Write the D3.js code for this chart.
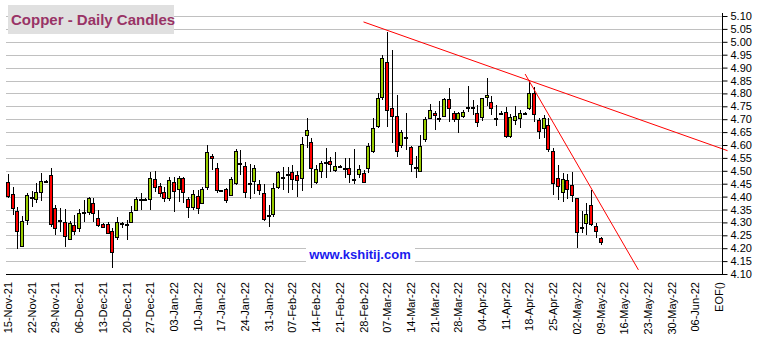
<!DOCTYPE html>
<html>
<head>
<meta charset="utf-8">
<script src="https://cdn.jsdelivr.net/npm/d3@7"></script>
<style>
  body { margin: 0; background: #fff; }
  svg { display: block; font-family: "Liberation Sans", Arial, sans-serif; }
</style>
</head>
<body>
<div id="chart"></div>
<script>
// daily candles, one slot per weekday starting Mon 15-Nov-21
const open = [4.457,4.410,4.344,4.210,4.309,4.400,4.391,4.419,4.461,4.484,
  4.355,4.309,4.300,4.235,4.289,4.280,4.339,4.339,4.377,4.316,
  4.293,4.293,4.267,4.245,4.299,4.293,4.303,4.348,4.390,4.391,
  4.390,4.467,4.441,4.417,4.393,4.455,4.428,4.471,4.390,4.358,
  4.402,4.374,4.436,4.557,4.510,4.424,4.428,4.406,4.451,4.529,
  4.520,4.454,4.461,4.448,4.415,4.329,4.331,4.436,4.477,4.486,
  4.497,4.482,4.471,4.639,4.613,4.455,4.499,4.535,4.538,4.503,
  4.520,4.512,4.509,4.467,4.486,4.490,4.510,4.577,4.674,4.787,
  4.920,4.742,4.712,4.600,4.632,4.594,4.516,4.500,4.623,4.706,
  4.725,4.703,4.714,4.777,4.725,4.700,4.712,4.749,4.749,4.723,
  4.707,4.785,4.765,4.706,4.723,4.727,4.635,4.697,4.704,4.725,
  4.745,4.800,4.697,4.667,4.678,4.578,4.473,4.417,4.463,4.445,
  4.393,4.284,4.299,4.368,4.287,4.238];
const high = [4.488,4.439,4.361,4.325,4.415,4.423,4.452,4.490,4.465,4.510,
  4.368,4.355,4.351,4.307,4.329,4.351,4.387,4.397,4.393,4.348,
  4.297,4.303,4.277,4.320,4.303,4.310,4.364,4.400,4.413,4.393,
  4.495,4.499,4.451,4.436,4.477,4.477,4.481,4.477,4.400,4.426,
  4.426,4.436,4.600,4.565,4.529,4.426,4.432,4.477,4.583,4.581,
  4.535,4.526,4.523,4.464,4.449,4.368,4.451,4.501,4.516,4.516,
  4.523,4.499,4.630,4.706,4.628,4.522,4.538,4.590,4.555,4.574,
  4.522,4.548,4.548,4.584,4.522,4.503,4.607,4.706,4.800,4.949,
  5.039,4.968,4.794,4.658,4.723,4.596,4.559,4.639,4.707,4.758,
  4.732,4.771,4.784,4.820,4.732,4.729,4.736,4.830,4.774,4.755,
  4.784,4.861,4.790,4.755,4.730,4.749,4.719,4.752,4.736,4.727,
  4.852,4.826,4.703,4.716,4.703,4.587,4.523,4.490,4.486,4.497,
  4.396,4.344,4.374,4.426,4.296,4.242];
const low = [4.393,4.329,4.196,4.206,4.290,4.361,4.374,4.384,4.457,4.284,
  4.251,4.264,4.206,4.232,4.251,4.264,4.303,4.329,4.303,4.284,
  4.277,4.255,4.122,4.232,4.277,4.232,4.297,4.346,4.348,4.389,
  4.348,4.419,4.397,4.380,4.384,4.339,4.380,4.374,4.316,4.348,
  4.333,4.370,4.426,4.503,4.415,4.422,4.377,4.402,4.445,4.484,
  4.393,4.389,4.410,4.406,4.306,4.284,4.322,4.428,4.426,4.415,
  4.426,4.397,4.423,4.587,4.435,4.448,4.471,4.471,4.494,4.497,
  4.518,4.471,4.451,4.448,4.471,4.451,4.490,4.570,4.665,4.774,
  4.671,4.607,4.555,4.587,4.581,4.497,4.471,4.500,4.613,4.701,
  4.658,4.690,4.710,4.691,4.690,4.645,4.704,4.729,4.716,4.671,
  4.693,4.753,4.716,4.674,4.718,4.626,4.628,4.678,4.667,4.723,
  4.736,4.688,4.623,4.626,4.574,4.406,4.387,4.380,4.391,4.378,
  4.200,4.258,4.251,4.286,4.238,4.212];
const close = [4.402,4.355,4.268,4.306,4.406,4.400,4.419,4.461,4.461,4.293,
  4.280,4.306,4.249,4.297,4.268,4.335,4.339,4.393,4.335,4.289,
  4.284,4.260,4.184,4.303,4.299,4.293,4.342,4.390,4.390,4.391,
  4.471,4.436,4.415,4.393,4.463,4.423,4.473,4.417,4.358,4.409,
  4.355,4.428,4.574,4.548,4.426,4.424,4.387,4.467,4.578,4.529,
  4.418,4.454,4.512,4.426,4.312,4.329,4.432,4.494,4.477,4.486,
  4.468,4.464,4.604,4.658,4.510,4.506,4.529,4.535,4.525,4.519,
  4.520,4.512,4.488,4.467,4.506,4.455,4.596,4.665,4.781,4.936,
  4.734,4.712,4.577,4.652,4.632,4.526,4.516,4.597,4.700,4.736,
  4.716,4.703,4.778,4.745,4.701,4.723,4.729,4.749,4.749,4.690,
  4.781,4.794,4.742,4.706,4.723,4.636,4.707,4.712,4.723,4.725,
  4.800,4.719,4.654,4.704,4.583,4.452,4.442,4.467,4.428,4.406,
  4.264,4.284,4.331,4.293,4.267,4.225];

// weekly labels (every 5th slot), last one is the end marker
const xLabels = ["15-Nov-21","22-Nov-21","29-Nov-21","06-Dec-21","13-Dec-21","20-Dec-21",
  "27-Dec-21","03-Jan-22","10-Jan-22","17-Jan-22","24-Jan-22","31-Jan-22","07-Feb-22",
  "14-Feb-22","21-Feb-22","28-Feb-22","07-Mar-22","14-Mar-22","21-Mar-22","28-Mar-22",
  "04-Apr-22","11-Apr-22","18-Apr-22","25-Apr-22","02-May-22","09-May-22","16-May-22",
  "23-May-22","30-May-22","06-Jun-22","EOF()"];
const yTicks = [4.10,4.15,4.20,4.25,4.30,4.35,4.40,4.45,4.50,4.55,4.60,4.65,4.70,4.75,
  4.80,4.85,4.90,4.95,5.00,5.05,5.10];

// trend lines as [slot, price] pairs
const trendUpper = [[75, 5.077], [151.8, 4.578]];
const trendLower = [[109.1, 4.875], [133.0, 4.116]];

const width = 758, height = 340;
const plot = { left: 6, right: 722, top: 16, bottom: 274 };

const svg = d3.select("#chart").append("svg")
  .attr("width", width).attr("height", height);

svg.append("rect").attr("width", width).attr("height", height).attr("fill", "white");

const x = d3.scaleLinear().domain([0, 150]).range([8, 8 + 150 * 4.74]);
const y = d3.scaleLinear().domain([4.10, 5.10]).range([plot.bottom, plot.top]);

// grid
svg.append("g").selectAll("line")
  .data(yTicks.slice(1))
  .join("line")
  .attr("x1", plot.left).attr("x2", plot.right)
  .attr("y1", d => Math.round(y(d)) + 0.5).attr("y2", d => Math.round(y(d)) + 0.5)
  .attr("stroke", "#c0c0c0")
  .attr("stroke-width", 1);

// title box
svg.append("rect")
  .attr("x", 8).attr("y", 5).attr("width", 166).attr("height", 29)
  .attr("fill", "#e0e0e0");
svg.append("text")
  .attr("x", 11).attr("y", 25)
  .attr("font-size", "15px").attr("font-weight", "bold")
  .attr("fill", "#993366")
  .text("Copper - Daily Candles");

// watermark
svg.append("rect")
  .attr("x", 306).attr("y", 245).attr("width", 109).attr("height", 17)
  .attr("fill", "white");
svg.append("text")
  .attr("x", 360).attr("y", 259)
  .attr("text-anchor", "middle")
  .attr("font-size", "13px").attr("font-weight", "bold")
  .attr("fill", "#1a1aee")
  .text("www.kshitij.com");

// candles
const candles = open.map((o, i) => ({ i, o, h: high[i], l: low[i], c: close[i] }));
const cg = svg.append("g").attr("shape-rendering", "crispEdges");

cg.selectAll("line")
  .data(candles)
  .join("line")
  .attr("x1", d => Math.round(x(d.i)) + 0.5)
  .attr("x2", d => Math.round(x(d.i)) + 0.5)
  .attr("y1", d => y(d.h))
  .attr("y2", d => y(d.l))
  .attr("stroke", "black");

cg.selectAll("rect")
  .data(candles)
  .join("rect")
  .attr("x", d => Math.round(x(d.i)) - 1.5)
  .attr("width", 3)
  .attr("y", d => Math.round(y(Math.max(d.o, d.c))) + 0.5)
  .attr("height", d => Math.max(1, Math.round(y(Math.min(d.o, d.c))) - Math.round(y(Math.max(d.o, d.c)))))
  .attr("fill", d => d.c >= d.o ? "#99cc00" : "#ff0000")
  .attr("stroke", "black")
  .attr("stroke-width", 1);

// trend lines
const line = d3.line().x(d => x(d[0])).y(d => y(d[1]));
[trendUpper, trendLower].forEach(t => {
  svg.append("path")
    .attr("d", line(t))
    .attr("fill", "none")
    .attr("stroke", "#ff0000")
    .attr("stroke-width", 1);
});

// bottom axis line
svg.append("line")
  .attr("x1", plot.left).attr("x2", plot.right)
  .attr("y1", plot.bottom + 0.5).attr("y2", plot.bottom + 0.5)
  .attr("stroke", "black");

// right axis
const yAxis = d3.axisRight(y)
  .tickValues(yTicks)
  .tickSize(5)
  .tickFormat(d3.format(".2f"));
const ya = svg.append("g")
  .attr("transform", `translate(${plot.right + 0.5},0)`)
  .call(yAxis);
ya.select(".domain").attr("d", `M0,${plot.top - 3}V${plot.bottom + 1}`);
ya.selectAll(".tick line").attr("stroke", "black");
ya.selectAll(".tick text")
  .attr("x", 8)
  .attr("font-size", "11px")
  .attr("font-family", "\"Liberation Sans\", Arial, sans-serif")
  .attr("fill", "#000");

// date labels, rotated
svg.append("g").selectAll("text")
  .data(xLabels)
  .join("text")
  .attr("transform", (d, k) => `translate(${x(k * 5) + 4},282) rotate(-90)`)
  .attr("text-anchor", "end")
  .attr("font-size", "11px")
  .attr("fill", "#000")
  .text(d => d);
</script>
</body>
</html>
